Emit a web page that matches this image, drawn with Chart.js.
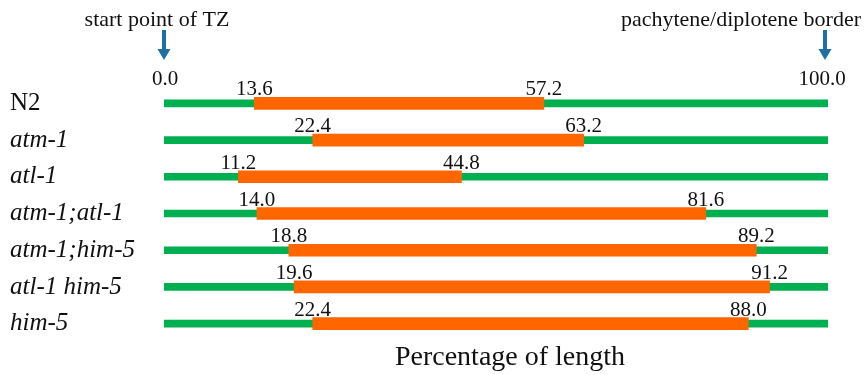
<!DOCTYPE html>
<html>
<head>
<meta charset="utf-8">
<script src="https://cdn.jsdelivr.net/npm/chart.js@4/dist/chart.umd.min.js"></script>
<style>
  html, body { margin: 0; padding: 0; background: #fff; }
  #c { display: block; }
</style>
</head>
<body>
<canvas id="c" width="865" height="375"></canvas>
<script>
// ---- data ----
const categories = ['N2', 'atm-1', 'atl-1', 'atm-1;atl-1', 'atm-1;him-5', 'atl-1 him-5', 'him-5'];
const rangeStart = [13.6, 22.4, 11.2, 14.0, 18.8, 19.6, 22.4];
const rangeEnd   = [57.2, 63.2, 44.8, 81.6, 89.2, 91.2, 88.0];
const axisMin = 0.0;
const axisMax = 100.0;
const axisEndLabels = ['0.0', '100.0'];
const markerTexts = ['start point of TZ', 'pachytene/diplotene border'];
const axisTitle = 'Percentage of length';

const SERIF = '"Liberation Serif", "DejaVu Serif", serif';
const GREEN = '#00B050';
const ORANGE = '#FF6600';
const BLUE = '#1F6FA3';
const TEXT = '#111111';

const annotations = {
  id: 'annotations',
  afterDatasetsDraw(chart) {
    const ctx = chart.ctx;
    const x = chart.scales.x, y = chart.scales.y;
    ctx.save();
    ctx.fillStyle = TEXT;
    ctx.textAlign = 'center';
    ctx.textBaseline = 'alphabetic';
    // range value labels
    ctx.font = '21px ' + SERIF;
    categories.forEach((c, i) => {
      const yc = y.getPixelForValue(i);
      ctx.fillText(rangeStart[i].toFixed(1), x.getPixelForValue(rangeStart[i]), yc - 8);
      ctx.fillText(rangeEnd[i].toFixed(1), x.getPixelForValue(rangeEnd[i]), yc - 8);
    });
    // axis end labels
    ctx.fillText(axisEndLabels[0], x.getPixelForValue(axisMin) + 1, 85);
    ctx.fillText(axisEndLabels[1], x.getPixelForValue(axisMax) - 6, 85);
    // marker texts
    ctx.font = '22px ' + SERIF;
    ctx.fillText(markerTexts[0], x.getPixelForValue(axisMin) - 7, 26);
    ctx.textAlign = 'right';
    ctx.fillText(markerTexts[1], 861, 26);
    // arrows
    ctx.fillStyle = BLUE;
    [x.getPixelForValue(axisMin), x.getPixelForValue(axisMax) - 3].forEach(ax => {
      ctx.fillRect(ax - 2, 30, 4, 20);
      ctx.beginPath();
      ctx.moveTo(ax - 6.5, 49);
      ctx.lineTo(ax + 6.5, 49);
      ctx.lineTo(ax, 60);
      ctx.closePath();
      ctx.fill();
    });
    // axis title
    ctx.fillStyle = TEXT;
    ctx.textAlign = 'center';
    ctx.font = '28px ' + SERIF;
    ctx.fillText(axisTitle, (chart.chartArea.left + chart.chartArea.right) / 2 + 14, 365);
    ctx.restore();
  }
};

new Chart(document.getElementById('c'), {
  type: 'bar',
  data: {
    labels: categories,
    datasets: [
      {
        label: 'range',
        data: rangeStart.map((s, i) => [s, rangeEnd[i]]),
        backgroundColor: ORANGE,
        barThickness: 12,
        grouped: false,
        order: 1,
        borderWidth: 0
      },
      {
        label: 'full',
        data: categories.map(() => [axisMin, axisMax]),
        backgroundColor: GREEN,
        barThickness: 7,
        grouped: false,
        order: 2,
        borderWidth: 0
      }
    ]
  },
  options: {
    indexAxis: 'y',
    responsive: false,
    animation: false,
    layout: { padding: { left: 10, right: 37, top: 85, bottom: 33 } },
    plugins: { legend: { display: false }, tooltip: { enabled: false } },
    scales: {
      x: { type: 'linear', min: axisMin, max: axisMax, display: false },
      y: {
        type: 'category',
        grid: { display: false, drawTicks: false },
        border: { display: false },
        ticks: {
          crossAlign: 'far',
          padding: 0,
          color: TEXT,
          font: (ctx) => ({ family: SERIF, size: 25, style: ctx.index === 0 ? 'normal' : 'italic' })
        },
        afterFit: (s) => { s.width = 154; }
      }
    }
  },
  plugins: [annotations]
});
</script>
</body>
</html>
